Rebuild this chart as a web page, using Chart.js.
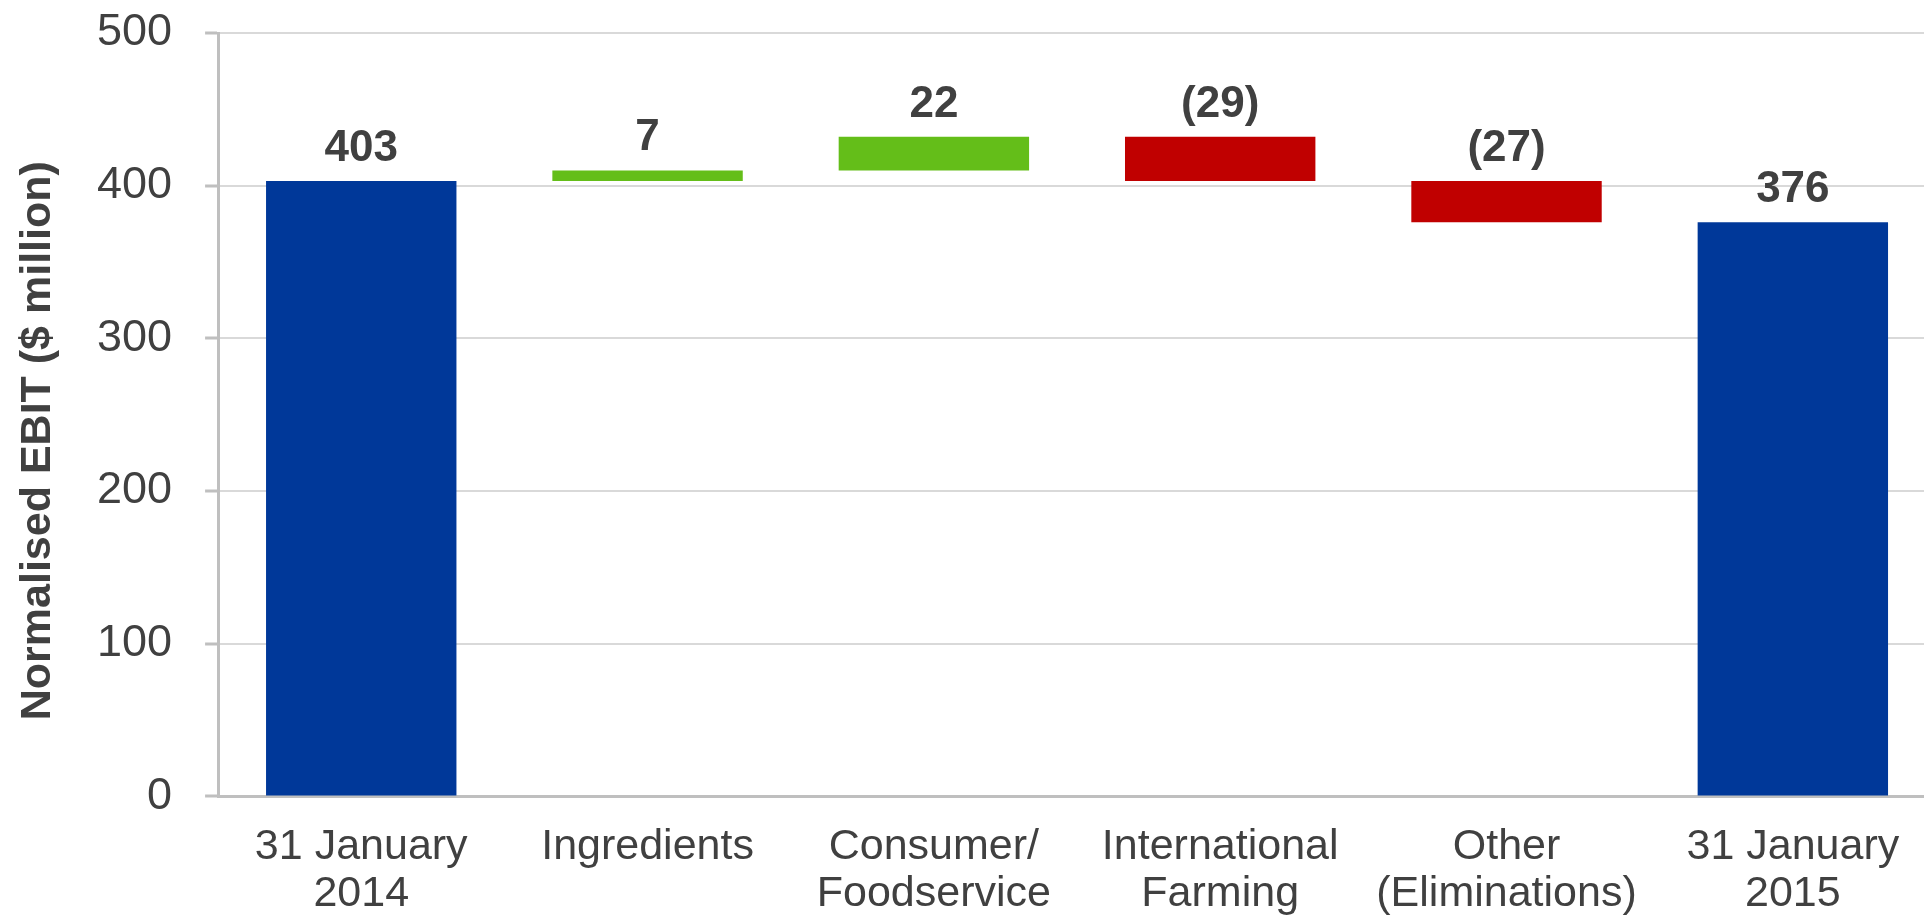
<!DOCTYPE html>
<html>
<head>
<meta charset="utf-8">
<script src="https://cdn.jsdelivr.net/npm/chart.js@4"></script>
<style>
  html, body { margin: 0; padding: 0; background: #fff; overflow: hidden; }
  canvas { display: block; margin-top: -27px; }
</style>
</head>
<body>
<canvas id="ChartWaterfall" width="1936" height="942"></canvas>
<script>
// Normalised EBIT bridge, 31 Jan 2014 -> 31 Jan 2015
const categories = [
    ['31 January', '2014'],
    'Ingredients',
    ['Consumer/', 'Foodservice'],
    ['International', 'Farming'],
    ['Other', '(Eliminations)'],
    ['31 January', '2015']
];
const barStart = [0, 403, 410, 432, 403, 0];
const barEnd = [403, 410, 432, 403, 376, 376];
const valueLabels = ['403', '7', '22', '(29)', '(27)', '376'];
const barColors = ['#003899', '#64BE19', '#64BE19', '#C00000', '#C00000', '#003899'];
const yTicks = [0, 100, 200, 300, 400, 500];
const yTitle = 'Normalised EBIT ($ million)';

const font = 'Liberation Sans, Arial, sans-serif';
const textColor = '#404040';

// etiquetas de valor em cima de cada barra + titulo do eixo y
const labelPlugin = {
    id: 'valueLabels',
    afterDatasetsDraw(chart) {
        const ctx = chart.ctx;
        const meta = chart.getDatasetMeta(0);
        ctx.save();
        ctx.font = 'bold 44px ' + font;
        ctx.fillStyle = textColor;
        ctx.textAlign = 'center';
        ctx.textBaseline = 'alphabetic';
        meta.data.forEach(function(bar, i) {
            const top = Math.min(bar.y, bar.base);
            ctx.fillText(valueLabels[i], bar.x, top - 20);
        });

        const area = chart.chartArea;
        ctx.translate(38, (area.top + area.bottom) / 2 + 26);
        ctx.rotate(-Math.PI / 2);
        ctx.font = 'bold 43px ' + font;
        ctx.textBaseline = 'middle';
        ctx.fillText(yTitle, 0, 0);
        ctx.restore();
    }
};

const ctx = document.getElementById('ChartWaterfall').getContext('2d');
const myChart = new Chart(ctx, {
    type: 'bar',
    data: {
        labels: categories,
        datasets: [{
            label: 'EBIT',
            data: barStart.map(function(s, i) { return [s, barEnd[i]]; }),
            backgroundColor: barColors,
            borderWidth: 0,
            categoryPercentage: 1,
            barPercentage: 0.665
        }]
    },
    options: {
        responsive: false,
        animation: false,
        layout: {
            padding: { top: 0, left: 64, right: 0, bottom: -30 }
        },
        plugins: {
            legend: { display: false },
            tooltip: { enabled: false }
        },
        scales: {
            x: {
                grid: { display: false, drawTicks: false },
                border: { display: true, color: '#bfbfbf', width: 3 },
                ticks: {
                    color: textColor,
                    font: { family: font, size: 43, lineHeight: 1.1 },
                    padding: 27,
                    maxRotation: 0,
                    autoSkip: false
                }
            },
            y: {
                min: 0,
                max: 500,
                afterBuildTicks: function(axis) {
                    axis.ticks = yTicks.map(function(v) { return { value: v }; });
                },
                grid: {
                    color: '#d9d9d9',
                    lineWidth: 2,
                    tickColor: '#bfbfbf',
                    tickLength: 13,
                    tickWidth: 3
                },
                border: { color: '#bfbfbf', width: 3 },
                ticks: {
                    color: textColor,
                    font: { family: font, size: 45 },
                    padding: 33
                }
            }
        }
    },
    plugins: [labelPlugin]
});
</script>
</body>
</html>
